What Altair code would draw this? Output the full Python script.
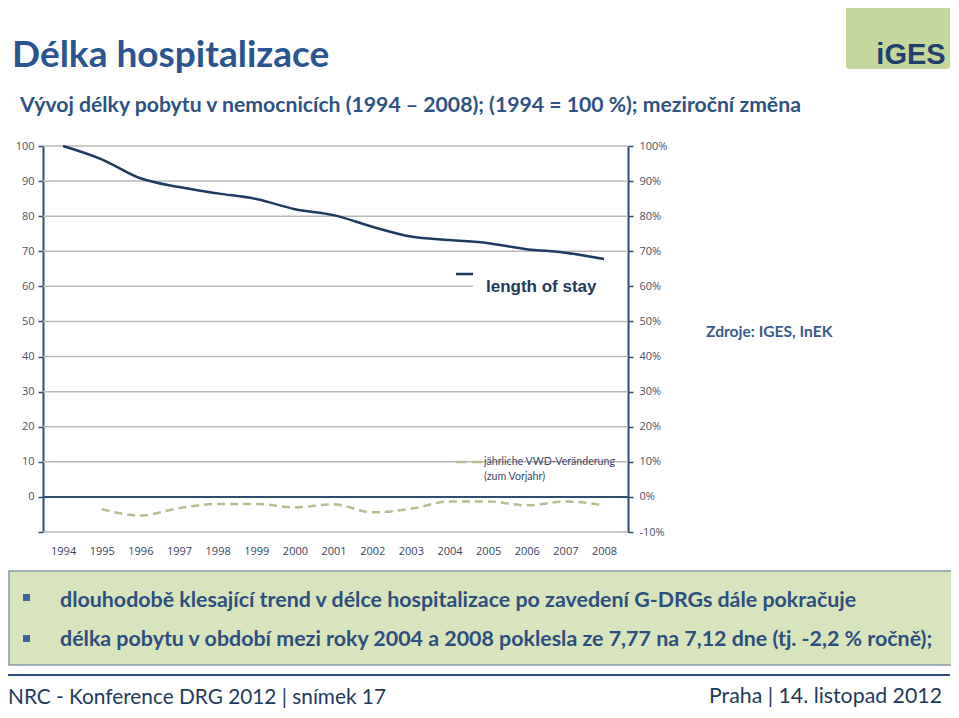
import altair as alt
import pandas as pd

# ---- data ----
years = list(range(1994, 2009))
length_of_stay = [100, 96.2, 90.8, 88.3, 86.5, 84.9, 82.0, 80.3, 77.0, 74.2, 73.2, 72.3, 70.6, 69.6, 67.8]
yearly_change = [None, -3.5, -5.3, -3.2, -2.0, -2.0, -3.0, -2.1, -4.4, -3.4, -1.3, -1.3, -2.4, -1.3, -2.4]
grid_values = list(range(-10, 101, 10))

title_text = "Délka hospitalizace"
subtitle_text = "Vývoj délky pobytu v nemocnicích (1994 – 2008); (1994 = 100 %); meziroční změna"
source_text = "Zdroje: IGES, InEK"
legend_los = "length of stay"
legend_chg_1 = "jährliche VWD-Veränderung"
legend_chg_2 = "(zum Vorjahr)"
bullet_1 = "dlouhodobě klesající trend v délce hospitalizace po zavedení G-DRGs dále pokračuje"
bullet_2 = "délka pobytu v období mezi roky 2004 a 2008 poklesla ze 7,77 na 7,12 dne (tj. -2,2 % ročně);"
footer_left = "NRC - Konference DRG 2012 | snímek 17"
footer_right = "Praha | 14. listopad 2012"
logo_text = "iGES"

df = pd.DataFrame({"year": years, "los": length_of_stay, "chg": yearly_change})
grid_df = pd.DataFrame({"g": grid_values})

W, H = 585, 386
AX = "#2F4F6F"
XDOM = [1993.48, 2008.62]
YDOM = [-10, 100]

x_enc = alt.X(
    "year:Q",
    scale=alt.Scale(domain=XDOM, nice=False, zero=False),
    axis=alt.Axis(values=years, format="d", title=None, domain=False, ticks=False, tickSize=0,
                  grid=False, labelPadding=13, labelFont="Open Sans", labelFontSize=11,
                  labelColor="#3A4660", labelFlush=False),
)

grid = alt.Chart(grid_df).mark_rule().encode(
    y=alt.Y("g:Q", scale=alt.Scale(domain=YDOM, nice=False, zero=False), axis=None),
    x=alt.value(0), x2=alt.value(W),
    color=alt.condition(alt.datum.g == 0, alt.value(AX), alt.value("#B8B8B8")),
    strokeWidth=alt.condition(alt.datum.g == 0, alt.value(2), alt.value(1.5)),
)


def one(s):
    return pd.DataFrame({"t": [s]})


def rect(x, x2, y, y2, fill, stroke=None, sw=0, r=0):
    kw = dict(fill=fill, cornerRadius=r)
    if stroke:
        kw.update(stroke=stroke, strokeWidth=sw)
    return alt.Chart(one("r")).mark_rect(**kw).encode(
        x=alt.value(x), x2=alt.value(x2), y=alt.value(y), y2=alt.value(y2))


def hline(x, x2, y, color, sw, dash=None):
    kw = dict(color=color, strokeWidth=sw)
    if dash:
        kw["strokeDash"] = dash
    return alt.Chart(one("l")).mark_rule(**kw).encode(
        x=alt.value(x), x2=alt.value(x2), y=alt.value(y))


def txt(s, x, y, size, color, font="Lato", weight="bold", align="left", baseline="alphabetic"):
    return alt.Chart(one(s)).mark_text(
        font=font, fontSize=size, fontWeight=weight, color=color, align=align, baseline=baseline
    ).encode(x=alt.value(x), y=alt.value(y), text="t:N")


mask = rect(430, 584, 134, 150, "white")

los_line = alt.Chart(df).mark_line(color="#1F3A5F", strokeWidth=2.5, interpolate="monotone").encode(
    x=x_enc,
    y=alt.Y("los:Q", scale=alt.Scale(domain=YDOM, nice=False, zero=False),
            axis=alt.Axis(orient="left", values=grid_values, title=None, grid=False,
                          labelExpr="datum.value == -10 ? '' : datum.label",
                          domainColor=AX, domainWidth=2, tickColor=AX, tickWidth=1.5, tickSize=5,
                          labelPadding=4, labelFont="Open Sans", labelFontSize=11, labelColor="#4A5368")),
)

chg_line = alt.Chart(df).transform_filter("datum.chg != null").mark_line(
    color="#B9BC90", strokeWidth=2.5, strokeDash=[8, 5], interpolate="monotone").encode(
    x=x_enc,
    y=alt.Y("chg:Q", scale=alt.Scale(domain=YDOM, nice=False, zero=False),
            axis=alt.Axis(orient="right", values=grid_values, title=None, grid=False,
                          labelExpr="datum.value + '%'",
                          domainColor=AX, domainWidth=2, tickColor=AX, tickWidth=1.5, tickSize=5,
                          labelPadding=6, labelFont="Open Sans", labelFontSize=11, labelColor="#4A5368")),
)

decor = [
    # header
    txt(title_text, -31, -79, 37, "#2B5591"),
    txt(subtitle_text, -23, -34, 21.2, "#2E5283"),
    rect(803, 907, -143, -77, "#C4D79B", r=3),
    txt(logo_text, 868, -82, 29, "#1F3F6E", font="Liberation Sans", align="center"),
    # legends / source
    hline(413, 430, 128, "#1F3A5F", 2.5),
    txt(legend_los, 443, 146, 17, "#1F3A5F", font="Liberation Sans"),
    hline(413, 439, 316, "#B9BC90", 2.5, dash=[10, 6]),
    txt(legend_chg_1, 441, 316, 10.6, "#3C4A68", weight="normal", baseline="middle"),
    txt(legend_chg_2, 441, 331, 10.6, "#3C4A68", weight="normal", baseline="middle"),
    txt(source_text, 663, 191, 15.6, "#3B5B8C"),
    # text box
    rect(-34, 913, 425, 519, "#D8E4BC", stroke="#8596AA", sw=1.5),
    rect(-20, -13, 448, 455, "#3F63A0"),
    rect(-20, -13, 489, 496, "#3F63A0"),
    txt(bullet_1, 17, 461, 21.4, "#2D4F7F"),
    txt(bullet_2, 17, 500, 21.4, "#2D4F7F"),
    # footer
    hline(-35, 907, 529, "#2B4A78", 2),
    txt(footer_left, -35, 558, 20.8, "#1F3A60", weight="normal"),
    txt(footer_right, 899, 557, 21.3, "#1F3A60", weight="normal", align="right"),
]

chart = alt.layer(grid, mask, los_line, chg_line, *decor).resolve_scale(y="independent").properties(
    width=W, height=H,
    autosize=alt.AutoSizeParams(type="none"),
    padding={"left": 35, "top": 138, "right": 323, "bottom": 178},
    background="white",
).configure_view(stroke=None)

chart.save("out.html", embed_options={"renderer": "svg", "actions": False})
